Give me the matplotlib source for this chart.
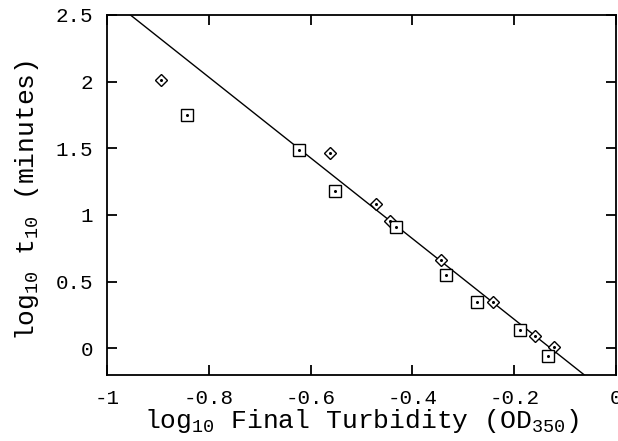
import numpy as np
import matplotlib
matplotlib.use("Agg")
import matplotlib.pyplot as plt

# log10 final turbidity vs log10 t10, two sample sets
diamond_x = [-0.894, -0.562, -0.472, -0.444, -0.344, -0.242, -0.159, -0.122]
diamond_y = [2.013, 1.467, 1.085, 0.955, 0.659, 0.344, 0.090, 0.007]
square_x = [-0.843, -0.623, -0.552, -0.432, -0.334, -0.273, -0.189, -0.134]
square_y = [1.750, 1.490, 1.180, 0.913, 0.546, 0.350, 0.135, -0.060]

# fitted line y = slope * x + intercept
slope = -3.03
intercept = -0.39

xticks = [-1, -0.8, -0.6, -0.4, -0.2, 0]
xticklabels = ["-1", "-0.8", "-0.6", "-0.4", "-0.2", "0"]
yticks = [0, 0.5, 1, 1.5, 2, 2.5]
yticklabels = ["0", "0.5", "1", "1.5", "2", "2.5"]

fam = ["Liberation Mono", "DejaVu Sans Mono"]
plt.rcParams["font.family"] = fam
plt.rcParams["mathtext.fontset"] = "custom"
plt.rcParams["mathtext.rm"] = "Liberation Mono"
plt.rcParams["mathtext.it"] = "Liberation Mono"
plt.rcParams["mathtext.default"] = "rm"

fig = plt.figure(figsize=(6.18, 4.41), dpi=100)
ax = fig.add_axes([0.173, 0.150, 0.824, 0.816])

xl = np.array([-1.0, 0.0])
ax.plot(xl, slope * xl + intercept, color="black", lw=1.0, zorder=2)

ax.plot(diamond_x, diamond_y, linestyle="none", marker="D", ms=6.0,
        mfc="white", mec="black", mew=1.0, zorder=3)
ax.plot(square_x, square_y, linestyle="none", marker="s", ms=8.5,
        mfc="white", mec="black", mew=1.0, zorder=3)
ax.plot(diamond_x + square_x, diamond_y + square_y, linestyle="none",
        marker="o", ms=1.2, color="black", zorder=4)

ax.set_xlim(-1, 0)
ax.set_ylim(-0.2, 2.5)
ax.set_xticks(xticks)
ax.set_xticklabels(xticklabels)
ax.set_yticks(yticks)
ax.set_yticklabels(yticklabels)
ax.tick_params(direction="in", length=7, width=1.3, top=True, right=True,
               labelsize=15, pad=10)
for s in ax.spines.values():
    s.set_linewidth(1.3)

ax.set_xlabel(r"log$_{10}$ Final Turbidity (OD$_{350}$)", fontsize=19)
ax.xaxis.set_label_coords(0.5, -0.09)
ax.set_ylabel(r"log$_{10}$ t$_{10}$ (minutes)", fontsize=19)
ax.yaxis.set_label_coords(-0.13, 0.485)

fig.savefig("out.png", dpi=100)
